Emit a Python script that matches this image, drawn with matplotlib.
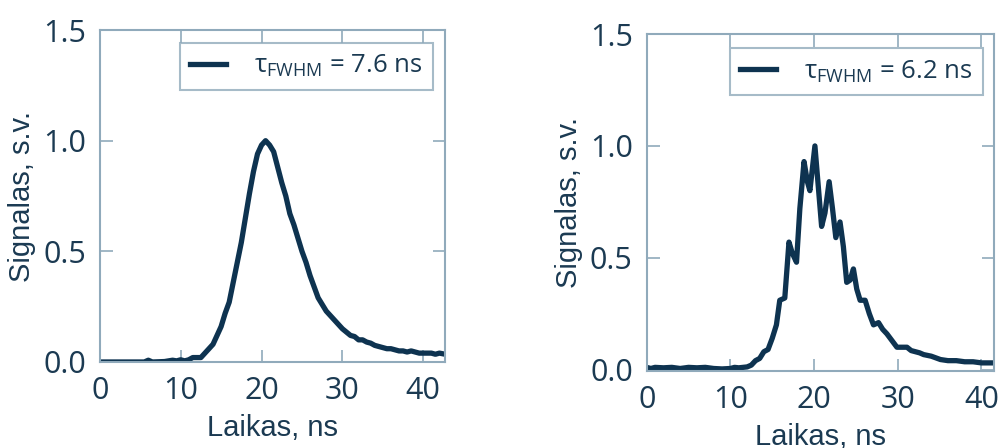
import matplotlib
matplotlib.use("Agg")
import matplotlib.pyplot as plt

# pulse A (left)
t_a = [0, 2, 4, 5.5, 6, 6.5, 8, 9, 9.5, 10, 10.5, 11, 11.5, 12, 12.5, 13, 13.5, 14, 14.5, 15,
       15.5, 16, 16.5, 17, 17.5, 18, 18.5, 19, 19.5, 20, 20.5, 21, 21.5, 22, 22.5, 23, 23.5, 24,
       24.5, 25, 25.5, 26, 26.5, 27, 27.5, 28, 28.5, 29, 29.5, 30, 30.5, 31, 31.5, 32, 32.5, 33,
       33.5, 34, 34.5, 35, 35.5, 36, 36.5, 37, 37.5, 38, 38.5, 39, 39.5, 40, 40.5, 41, 41.5, 42, 42.7]
s_a = [0.0, 0.0, 0.0, 0.0, 0.008, 0.0, 0.002, 0.008, 0.005, 0.01, 0.005, 0.01, 0.02, 0.02, 0.02,
       0.04, 0.06, 0.08, 0.12, 0.16, 0.22, 0.27, 0.36, 0.45, 0.54, 0.65, 0.76, 0.86, 0.94, 0.98,
       1.0, 0.98, 0.95, 0.88, 0.81, 0.75, 0.67, 0.62, 0.56, 0.50, 0.45, 0.39, 0.34, 0.29, 0.26,
       0.23, 0.21, 0.19, 0.17, 0.15, 0.135, 0.12, 0.115, 0.10, 0.10, 0.09, 0.085, 0.075, 0.07,
       0.065, 0.06, 0.06, 0.055, 0.05, 0.05, 0.045, 0.05, 0.045, 0.04, 0.04, 0.04, 0.04, 0.035,
       0.04, 0.035]

# pulse B (right)
t_b = [0, 0.5, 1, 2, 3, 4, 5, 6, 7, 8, 9, 10, 10.5, 11, 11.5, 12, 12.5, 13, 13.5, 14,
       14.5, 15, 15.5, 15.9, 16.5, 17.0, 17.4, 17.9, 18.3, 18.8, 19.2, 19.5, 20.1, 20.5, 20.9,
       21.3, 21.8, 22.2, 22.6, 23.1, 23.5, 23.9, 24.3, 24.7, 25.1, 25.5, 26.1, 26.6, 27.1, 27.7,
       28.2, 28.7, 29.3, 29.9, 30.5, 31.1, 31.6, 32.1, 32.6, 33.1, 34, 35.1, 36, 37, 38, 39, 40, 41.5]
s_b = [0.01, 0.005, 0.01, 0.008, 0.01, 0.005, 0.01, 0.008, 0.01, 0.005, 0.003, 0.005, 0.01,
       0.008, 0.01, 0.012, 0.02, 0.04, 0.05, 0.08, 0.09, 0.14, 0.2, 0.31, 0.32, 0.57, 0.52, 0.48,
       0.72, 0.93, 0.84, 0.80, 1.0, 0.82, 0.64, 0.70, 0.84, 0.72, 0.59, 0.66, 0.55, 0.39, 0.40,
       0.45, 0.36, 0.31, 0.31, 0.25, 0.20, 0.21, 0.18, 0.16, 0.13, 0.10, 0.10, 0.10, 0.085, 0.08,
       0.075, 0.067, 0.06, 0.045, 0.04, 0.04, 0.035, 0.035, 0.03, 0.03]

labels = ["7.6 ns", "6.2 ns"]
x_ticks = [0, 10, 20, 30, 40]
y_ticks = [0.0, 0.5, 1.0, 1.5]

LINE = "#0e3350"
TEXT = "#1b3a52"
FRAME = "#90aabb"

plt.rcParams["mathtext.fontset"] = "custom"
plt.rcParams["mathtext.rm"] = "Open Sans"
plt.rcParams["mathtext.it"] = "Open Sans"

fig = plt.figure(figsize=(9.98, 4.48), dpi=100)
ax1 = fig.add_axes([0.100, 0.192, 0.346, 0.741])
ax2 = fig.add_axes([0.648, 0.172, 0.348, 0.752])


def style(ax, t, s, lab, xmax, bottom, anchor):
    ax.plot(t, s, color=LINE, lw=3.8, label=r"$\mathrm{τ_{FWHM}}$ = " + lab)
    ax.set_xlim(0, xmax)
    ax.set_ylim(bottom, 1.5)
    ax.set_xticks(x_ticks)
    ax.set_yticks(y_ticks)
    ax.set_yticklabels(["%.1f" % v for v in y_ticks])
    for sp in ax.spines.values():
        sp.set_color(FRAME)
        sp.set_linewidth(1.5)
    ax.tick_params(direction="in", length=9, width=1.2, color=FRAME,
                   top=True, right=True, labelsize=22, labelcolor=TEXT, pad=10)
    for lbl in ax.get_xticklabels() + ax.get_yticklabels():
        lbl.set_family("Open Sans")
    ax.set_xlabel("Laikas, ns", fontsize=21, color=TEXT, family="Liberation Sans", labelpad=6)
    ax.set_ylabel("Signalas, s.v.", fontsize=21, color=TEXT, family="Liberation Sans", labelpad=5)
    leg = ax.legend(loc="upper right", bbox_to_anchor=anchor, fancybox=False,
                    prop={"family": "Open Sans", "size": 18.5}, handlelength=1.4,
                    handletextpad=1.1, borderpad=0.4, borderaxespad=0)
    leg.get_frame().set_edgecolor(FRAME)
    leg.get_frame().set_linewidth(1.5)
    for tx in leg.get_texts():
        tx.set_color(TEXT)


style(ax1, t_a, s_a, labels[0], 42.7, 0.0, (0.965, 0.961))
style(ax2, t_b, s_b, labels[1], 41.5, -0.006, (0.968, 0.958))

fig.savefig("out.png", dpi=100)
